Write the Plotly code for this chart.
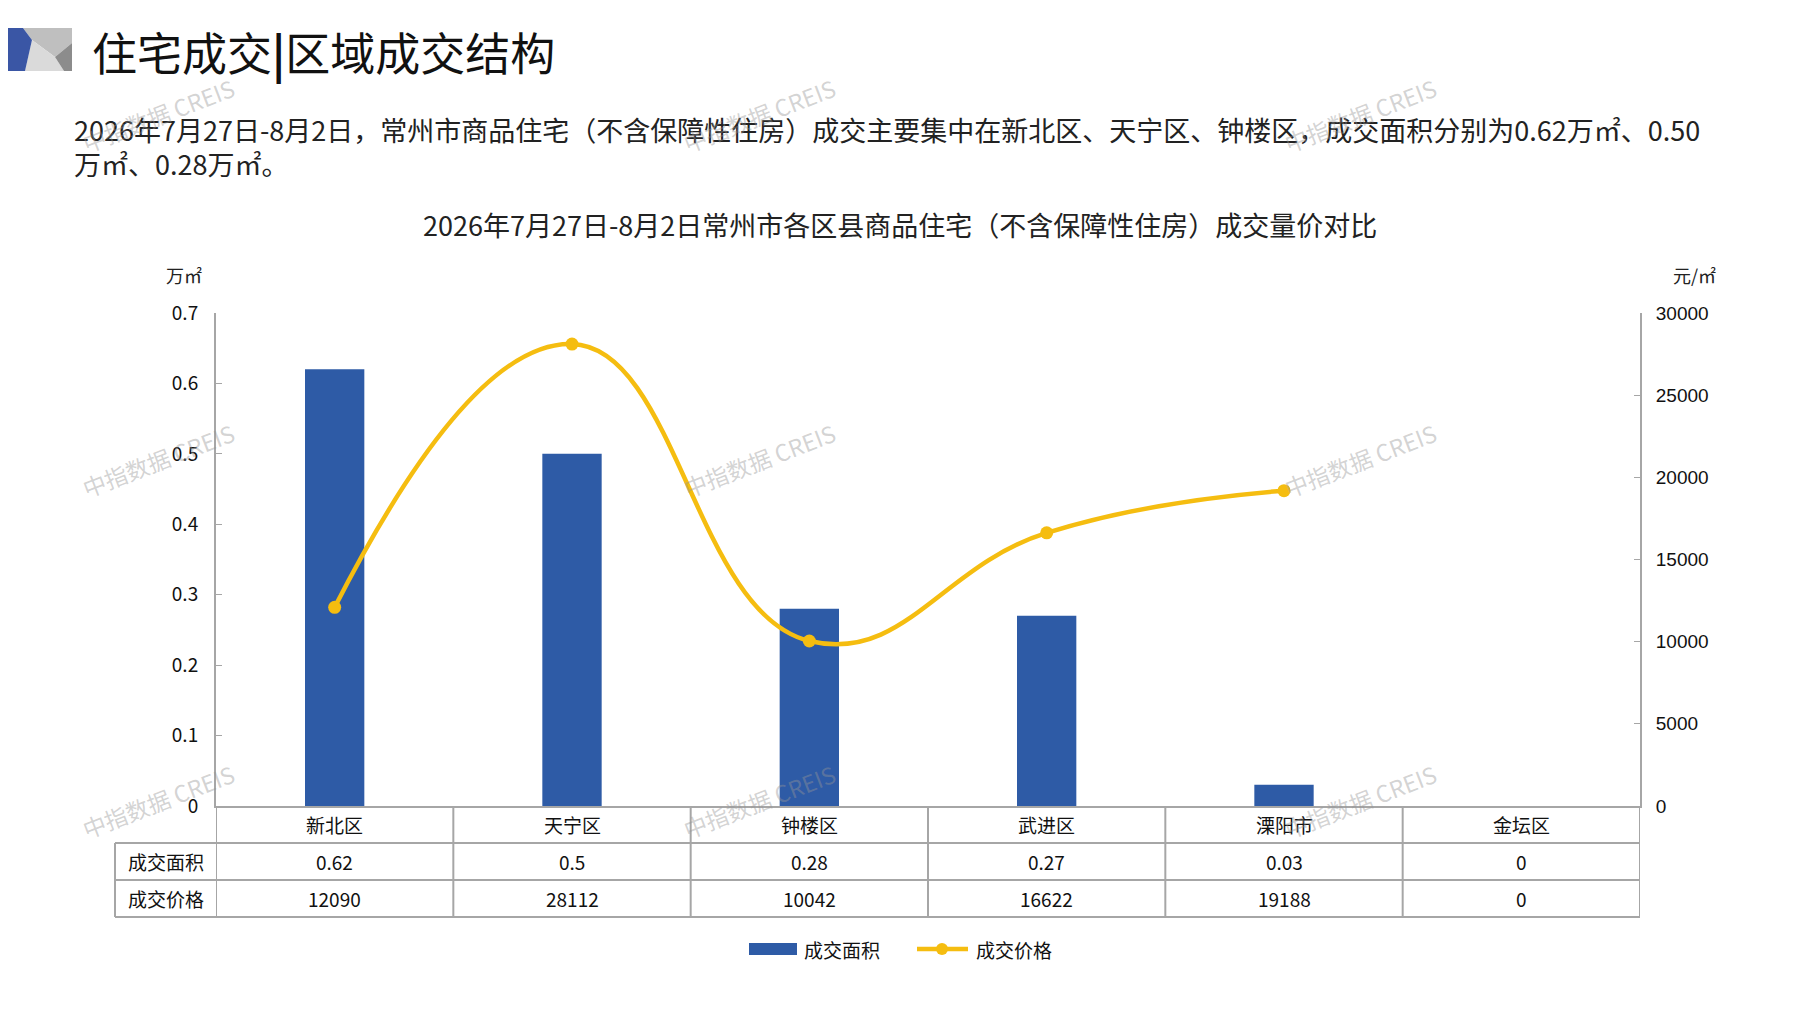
import plotly.graph_objects as go

# data
districts = ['新北区', '天宁区', '钟楼区', '武进区', '溧阳市', '金坛区']
area = [0.62, 0.5, 0.28, 0.27, 0.03, 0]
price = [12090, 28112, 10042, 16622, 19188, 0]
row_names = ['成交面积', '成交价格']
series_names = ['成交面积', '成交价格']

OFF = 8                      # page body margin
W, H = 1797 - 2 * OFF, 1010 - 2 * OFF
L, R, T, B = 216, 1640, 313, 806   # plot area in screenshot pixels
FONT = 'Noto Sans CJK SC, Noto Sans, sans-serif'
BLUE = '#2E5BA6'
GOLD = '#F5BD10'
GRID = '#A6A6A6'


def px(x):
    return (x - L) / (R - L)


def py(y):
    return (B - y) / (B - T)


fig = go.Figure()

fig.add_trace(go.Bar(
    x=districts, y=area, name=series_names[0],
    marker=dict(color=BLUE, line=dict(width=0)),
    width=0.25,
))

# no line point where there is no transaction
line_price = [p if p else None for p in price]
fig.add_trace(go.Scatter(
    x=districts, y=line_price, name=series_names[1], yaxis='y2',
    mode='lines+markers',
    line=dict(color=GOLD, width=4.5, shape='spline', smoothing=1.3),
    marker=dict(color=GOLD, size=13),
))

ann = []
shapes = []

# header
shapes += [
    dict(type='path', xref='paper', yref='paper',
         path=f'M {px(23)} {py(28)} L {px(72)} {py(28)} L {px(72)} {py(43)} '
              f'L {px(55)} {py(57)} L {px(32)} {py(40)} Z',
         fillcolor='#BFBFBF', line=dict(width=0)),
    dict(type='path', xref='paper', yref='paper',
         path=f'M {px(32)} {py(40)} L {px(55)} {py(57)} L {px(64)} {py(71)} '
              f'L {px(25)} {py(71)} Z',
         fillcolor='#DADADA', line=dict(width=0)),
    dict(type='path', xref='paper', yref='paper',
         path=f'M {px(72)} {py(43)} L {px(72)} {py(71)} L {px(64)} {py(71)} '
              f'L {px(55)} {py(57)} Z',
         fillcolor='#8C8C8C', line=dict(width=0)),
    dict(type='path', xref='paper', yref='paper',
         path=f'M {px(0)} {py(28)} L {px(23)} {py(28)} L {px(32)} {py(40)} '
              f'L {px(25)} {py(71)} L {px(0)} {py(71)} Z',
         fillcolor='#3A56A5', line=dict(width=0)),
]
ann.append(dict(text='住宅成交<b>|</b>区域成交结构', x=px(90), y=py(51),
                xanchor='left', yanchor='middle',
                font=dict(size=45, color='#111111', family=FONT)))
ann.append(dict(
    text='2026年7月27日-8月2日，常州市商品住宅（不含保障性住房）成交主要集中在新北区、天宁区、钟楼区，成交面积分别为0.62万㎡、0.50',
    x=px(72), y=py(130), xanchor='left', yanchor='middle',
    font=dict(size=27, color='#222222', family=FONT)))
ann.append(dict(text='万㎡、0.28万㎡。', x=px(72), y=py(163),
                xanchor='left', yanchor='middle',
                font=dict(size=27, color='#222222', family=FONT)))

# chart title and units
ann.append(dict(
    text='2026年7月27日-8月2日常州市各区县商品住宅（不含保障性住房）成交量价对比',
    x=px(900), y=py(225), xanchor='center', yanchor='middle',
    font=dict(size=27, color='#222222', family=FONT)))
ann.append(dict(text='万㎡', x=px(184), y=py(275), xanchor='center', yanchor='middle',
                font=dict(size=18, color='#222222', family=FONT)))
ann.append(dict(text='元/㎡', x=px(1694), y=py(275), xanchor='center', yanchor='middle',
                font=dict(size=18, color='#222222', family=FONT)))

# data table under the chart
rows_y = [806, 843, 880, 917]
for i in range(len(districts) + 1):
    shapes.append(dict(type='line', xref='x', yref='paper',
                       x0=i - 0.5, x1=i - 0.5, y0=py(rows_y[0]), y1=py(rows_y[-1]),
                       line=dict(color=GRID, width=2)))
shapes.append(dict(type='line', xref='paper', yref='paper',
                   x0=px(115), x1=px(115), y0=py(rows_y[1]), y1=py(rows_y[-1]),
                   line=dict(color=GRID, width=2)))
for yy in rows_y[1:]:
    shapes.append(dict(type='line', xref='paper', yref='paper',
                       x0=px(115), x1=px(R), y0=py(yy), y1=py(yy),
                       line=dict(color=GRID, width=2)))

cell_font = dict(size=19, color='#111111', family=FONT)
for i, d in enumerate(districts):
    ann.append(dict(text=d, x=i, xref='x', y=py(824.5), yref='paper',
                    xanchor='center', yanchor='middle', font=cell_font))
    ann.append(dict(text=f'{area[i]:g}', x=i, xref='x', y=py(861.5), yref='paper',
                    xanchor='center', yanchor='middle', font=cell_font))
    ann.append(dict(text=str(price[i]), x=i, xref='x', y=py(898.5), yref='paper',
                    xanchor='center', yanchor='middle', font=cell_font))
for k, name in enumerate(row_names):
    ann.append(dict(text=name, x=px(165.5), y=py(861.5 + 37 * k),
                    xanchor='center', yanchor='middle', font=cell_font))

# legend drawn by hand (wide bar swatch like the original)
shapes.append(dict(type='rect', xref='paper', yref='paper',
                   x0=px(749), x1=px(797), y0=py(955), y1=py(943),
                   fillcolor=BLUE, line=dict(width=0)))
shapes.append(dict(type='line', xref='paper', yref='paper',
                   x0=px(917), x1=px(968), y0=py(949), y1=py(949),
                   line=dict(color=GOLD, width=4.5)))
shapes.append(dict(type='circle', xref='paper', yref='paper',
                   x0=px(936), x1=px(948), y0=py(955), y1=py(943),
                   fillcolor=GOLD, line=dict(width=0)))
ann.append(dict(text=series_names[0], x=px(802), y=py(949), xanchor='left',
                yanchor='middle', font=cell_font))
ann.append(dict(text=series_names[1], x=px(974), y=py(949), xanchor='left',
                yanchor='middle', font=cell_font))

# watermarks
for wx in [158, 759, 1360]:
    for wy in [115, 460, 801]:
        ann.append(dict(text='中指数据 CREIS', x=px(wx), y=py(wy),
                        xanchor='center', yanchor='middle', textangle=-21,
                        font=dict(size=23, color='rgba(150,150,150,0.42)',
                                  family='Noto Sans CJK SC, Liberation Sans')))

for a in ann:
    a.setdefault('xref', 'paper')
    a.setdefault('yref', 'paper')
    a['showarrow'] = False

fig.update_layout(
    width=W, height=H,
    margin=dict(l=L - OFF, r=W - (R - OFF), t=T - OFF, b=H - (B - OFF)),
    plot_bgcolor='white', paper_bgcolor='white',
    font=dict(family=FONT, size=19, color='#111111'),
    showlegend=False,
    xaxis=dict(showticklabels=False, showline=True, linecolor=GRID, linewidth=2,
               ticks='', showgrid=False, zeroline=False, range=[-0.5, 5.5]),
    yaxis=dict(range=[0, 0.7], dtick=0.1, showline=True, linecolor=GRID, linewidth=2,
               ticks='inside', ticklen=6, tickcolor=GRID, showgrid=False,
               zeroline=False, tickformat='.1~f', ticklabelstandoff=12,
               tickfont=dict(size=19, family=FONT)),
    yaxis2=dict(range=[0, 30000], dtick=5000, overlaying='y', side='right',
                showline=True, linecolor=GRID, linewidth=2,
                ticks='inside', ticklen=6, tickcolor=GRID, showgrid=False,
                zeroline=False, ticklabelstandoff=10, tickformat='d',
                tickfont=dict(size=19, family='Liberation Sans, Arial')),
    annotations=ann,
    shapes=shapes,
)

fig.write_html('out.html')
